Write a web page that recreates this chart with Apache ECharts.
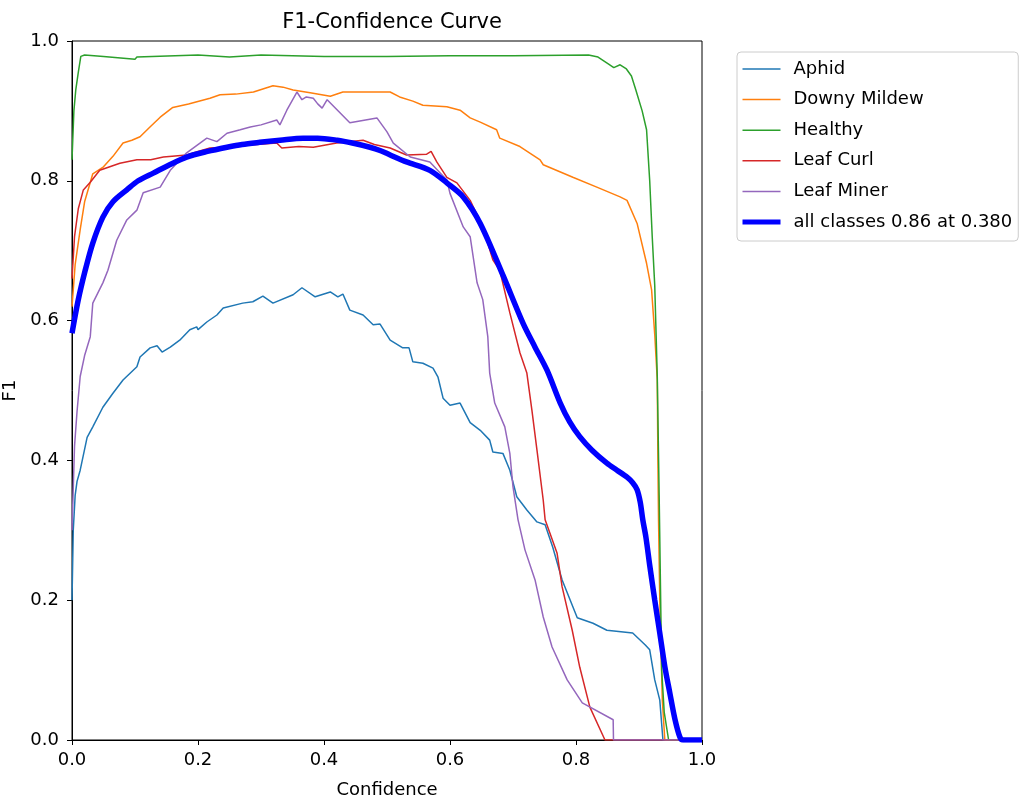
<!DOCTYPE html>
<html>
<head>
<meta charset="utf-8">
<script src="https://cdn.jsdelivr.net/npm/echarts@6/dist/echarts.min.js"></script>
<style>
html,body{margin:0;padding:0;background:#fff;}
#chart{width:1021px;height:805px;}
</style>
</head>
<body>
<div id="chart"></div>
<script>
const seriesNames = ['Aphid', 'Downy Mildew', 'Healthy', 'Leaf Curl', 'Leaf Miner', 'all classes 0.86 at 0.380'];
const xTicks = [0, 0.2, 0.4, 0.6, 0.8, 1.0];
const yTicks = [0, 0.2, 0.4, 0.6, 0.8, 1.0];

const aphid = [[0,0.2],[0.002,0.3],[0.005,0.35],[0.008,0.37],[0.013,0.386],[0.024,0.433],[0.033,0.448],[0.049,0.476],[0.065,0.496],[0.081,0.515],[0.103,0.534],[0.108,0.548],[0.124,0.561],[0.135,0.564],[0.143,0.555],[0.156,0.562],[0.171,0.572],[0.187,0.587],[0.198,0.591],[0.2,0.587],[0.214,0.598],[0.23,0.608],[0.24,0.618],[0.271,0.625],[0.287,0.627],[0.303,0.635],[0.319,0.625],[0.351,0.637],[0.365,0.647],[0.386,0.634],[0.41,0.641],[0.422,0.634],[0.43,0.638],[0.441,0.615],[0.462,0.608],[0.478,0.594],[0.489,0.595],[0.505,0.572],[0.525,0.561],[0.535,0.561],[0.541,0.541],[0.557,0.539],[0.573,0.532],[0.581,0.519],[0.589,0.489],[0.6,0.479],[0.616,0.482],[0.632,0.454],[0.648,0.443],[0.663,0.429],[0.668,0.412],[0.684,0.41],[0.695,0.386],[0.706,0.348],[0.722,0.329],[0.738,0.312],[0.751,0.308],[0.763,0.276],[0.778,0.229],[0.802,0.175],[0.827,0.167],[0.849,0.157],[0.89,0.153],[0.91,0.136],[0.917,0.129],[0.925,0.086],[0.933,0.057],[0.938,0],[1,0]];

const downyMildew = [[0,0.62],[0.005,0.68],[0.013,0.73],[0.02,0.77],[0.033,0.81],[0.05,0.82],[0.065,0.835],[0.081,0.854],[0.095,0.858],[0.108,0.863],[0.125,0.878],[0.14,0.891],[0.16,0.905],[0.185,0.91],[0.219,0.918],[0.235,0.923],[0.26,0.924],[0.288,0.927],[0.319,0.936],[0.335,0.934],[0.351,0.93],[0.378,0.926],[0.41,0.921],[0.43,0.927],[0.47,0.927],[0.505,0.927],[0.52,0.92],[0.541,0.914],[0.557,0.908],[0.595,0.906],[0.616,0.901],[0.632,0.89],[0.648,0.884],[0.674,0.873],[0.679,0.861],[0.711,0.849],[0.743,0.83],[0.748,0.823],[0.795,0.805],[0.833,0.791],[0.87,0.777],[0.881,0.772],[0.897,0.739],[0.912,0.682],[0.92,0.644],[0.925,0.58],[0.929,0.515],[0.93,0.40],[0.931,0.315],[0.933,0.2],[0.937,0.057],[0.941,0],[1,0]];

const healthy = [[0,0.83],[0.003,0.9],[0.006,0.93],[0.01,0.955],[0.014,0.978],[0.02,0.98],[0.05,0.978],[0.1,0.974],[0.103,0.977],[0.2,0.98],[0.25,0.977],[0.3,0.98],[0.4,0.978],[0.5,0.978],[0.6,0.979],[0.7,0.979],[0.82,0.98],[0.835,0.977],[0.85,0.968],[0.86,0.962],[0.87,0.966],[0.88,0.96],[0.888,0.95],[0.895,0.93],[0.905,0.9],[0.912,0.873],[0.917,0.8],[0.921,0.72],[0.925,0.65],[0.929,0.52],[0.932,0.35],[0.936,0.1],[0.94,0.04],[0.947,0],[1,0]];

const leafCurl = [[0,0.66],[0.004,0.72],[0.01,0.76],[0.018,0.787],[0.029,0.798],[0.044,0.815],[0.06,0.82],[0.076,0.825],[0.103,0.83],[0.125,0.83],[0.145,0.834],[0.182,0.837],[0.2,0.842],[0.219,0.847],[0.25,0.848],[0.277,0.851],[0.325,0.854],[0.333,0.847],[0.36,0.849],[0.383,0.848],[0.42,0.854],[0.462,0.858],[0.48,0.852],[0.505,0.847],[0.531,0.837],[0.563,0.838],[0.57,0.842],[0.579,0.827],[0.595,0.805],[0.611,0.797],[0.632,0.772],[0.652,0.734],[0.668,0.687],[0.679,0.672],[0.695,0.611],[0.711,0.554],[0.722,0.525],[0.73,0.472],[0.738,0.415],[0.748,0.343],[0.751,0.315],[0.77,0.267],[0.778,0.219],[0.794,0.157],[0.806,0.104],[0.822,0.047],[0.846,0],[1,0]];

const leafMiner = [[0,0.3],[0.004,0.42],[0.008,0.47],[0.013,0.52],[0.02,0.55],[0.029,0.577],[0.033,0.625],[0.049,0.654],[0.057,0.672],[0.071,0.715],[0.087,0.744],[0.103,0.758],[0.113,0.783],[0.14,0.791],[0.156,0.815],[0.182,0.84],[0.214,0.861],[0.23,0.856],[0.246,0.868],[0.267,0.873],[0.283,0.877],[0.3,0.88],[0.325,0.887],[0.33,0.88],[0.341,0.901],[0.357,0.927],[0.365,0.916],[0.372,0.92],[0.383,0.918],[0.39,0.91],[0.397,0.904],[0.405,0.916],[0.441,0.883],[0.484,0.89],[0.5,0.87],[0.51,0.854],[0.537,0.834],[0.568,0.827],[0.595,0.801],[0.6,0.782],[0.621,0.734],[0.632,0.72],[0.643,0.654],[0.652,0.63],[0.66,0.577],[0.663,0.525],[0.671,0.482],[0.687,0.448],[0.695,0.41],[0.7,0.362],[0.708,0.315],[0.719,0.272],[0.735,0.229],[0.748,0.176],[0.762,0.133],[0.786,0.086],[0.81,0.053],[0.859,0.029],[0.8595,0],[1,0]];

const allClasses = [[0,0.582],[0.01,0.63],[0.021,0.672],[0.033,0.711],[0.049,0.748],[0.065,0.77],[0.087,0.787],[0.105,0.8],[0.129,0.811],[0.155,0.823],[0.182,0.834],[0.215,0.842],[0.246,0.848],[0.27,0.852],[0.298,0.855],[0.33,0.858],[0.367,0.861],[0.39,0.861],[0.421,0.858],[0.445,0.854],[0.473,0.848],[0.49,0.843],[0.505,0.837],[0.531,0.827],[0.568,0.815],[0.595,0.797],[0.621,0.777],[0.648,0.739],[0.684,0.665],[0.716,0.596],[0.735,0.562],[0.754,0.529],[0.775,0.482],[0.79,0.455],[0.806,0.434],[0.825,0.415],[0.849,0.396],[0.865,0.386],[0.881,0.376],[0.89,0.368],[0.897,0.358],[0.902,0.34],[0.906,0.315],[0.911,0.29],[0.917,0.25],[0.925,0.2],[0.933,0.153],[0.941,0.105],[0.949,0.067],[0.957,0.03],[0.965,0.004],[0.97,0],[1,0]];

const seriesData = [aphid, downyMildew, healthy, leafCurl, leafMiner, allClasses];
const colors = ['#1f77b4', '#ff7f0e', '#2ca02c', '#d62728', '#9467bd', '#0000ff'];

const FONT = 'DejaVu Sans';
const chart = echarts.init(document.getElementById('chart'), null, {renderer: 'canvas'});

const series = seriesNames.map((name, i) => ({
  name: name,
  type: 'line',
  data: seriesData[i],
  symbol: 'none',
  showSymbol: false,
  smooth: i === 5 ? 0.3 : false,
  animation: false,
  lineStyle: {color: colors[i], width: i === 5 ? 5.5 : 1.5},
  itemStyle: {color: colors[i]},
  z: i === 5 ? 10 : 2
}));

chart.setOption({
  animation: false,
  backgroundColor: '#fff',
  title: {
    text: 'F1-Confidence Curve',
    left: 387, top: 7, textAlign: 'center',
    textStyle: {fontFamily: FONT, fontSize: 21, fontWeight: 'normal', color: '#000'}
  },
  legend: {
    orient: 'vertical',
    left: 737, top: 52,
    itemWidth: 38, itemHeight: 14, itemGap: 12.6,
    padding: [8, 6, 10, 3],
    borderColor: '#cccccc', borderWidth: 1, borderRadius: 4,
    backgroundColor: '#fff',
    itemStyle: {opacity: 0},
    textStyle: {fontFamily: FONT, fontSize: 18, color: '#000', padding: [0, 0, 0, 8]},
    data: seriesNames.map((n, i) => ({
      name: n,
      itemStyle: {opacity: 0},
      lineStyle: {width: i === 5 ? 5 : 1.5, color: colors[i]}
    }))
  },
  grid: {
    left: 72, top: 41, width: 630, height: 699,
    outerBoundsMode: 'none',
    show: true, borderColor: '#000', borderWidth: 1, backgroundColor: 'transparent'
  },
  xAxis: {
    type: 'value', min: 0, max: 1, interval: 0.2,
    name: 'Confidence', nameLocation: 'middle', nameGap: 41,
    nameTextStyle: {fontFamily: FONT, fontSize: 18, color: '#000'},
    axisLine: {show: true, lineStyle: {color: '#000', width: 1}},
    axisTick: {show: true, inside: false, length: 5, lineStyle: {color: '#000', width: 1}},
    axisLabel: {fontFamily: FONT, fontSize: 18, color: '#000', margin: 11,
      formatter: v => xTicks.some(t => Math.abs(t - v) < 1e-9) ? v.toFixed(1) : ''},
    splitLine: {show: false}
  },
  yAxis: {
    type: 'value', min: 0, max: 1, interval: 0.2,
    name: 'F1', nameLocation: 'middle', nameGap: 45,
    nameTextStyle: {fontFamily: FONT, fontSize: 18, color: '#000'},
    axisLine: {show: true, lineStyle: {color: '#000', width: 1}},
    axisTick: {show: true, inside: false, length: 5, lineStyle: {color: '#000', width: 1}},
    axisLabel: {fontFamily: FONT, fontSize: 18, color: '#000', margin: 13,
      formatter: v => yTicks.some(t => Math.abs(t - v) < 1e-9) ? v.toFixed(1) : ''},
    splitLine: {show: false}
  },
  series: series
});
</script>
</body>
</html>
